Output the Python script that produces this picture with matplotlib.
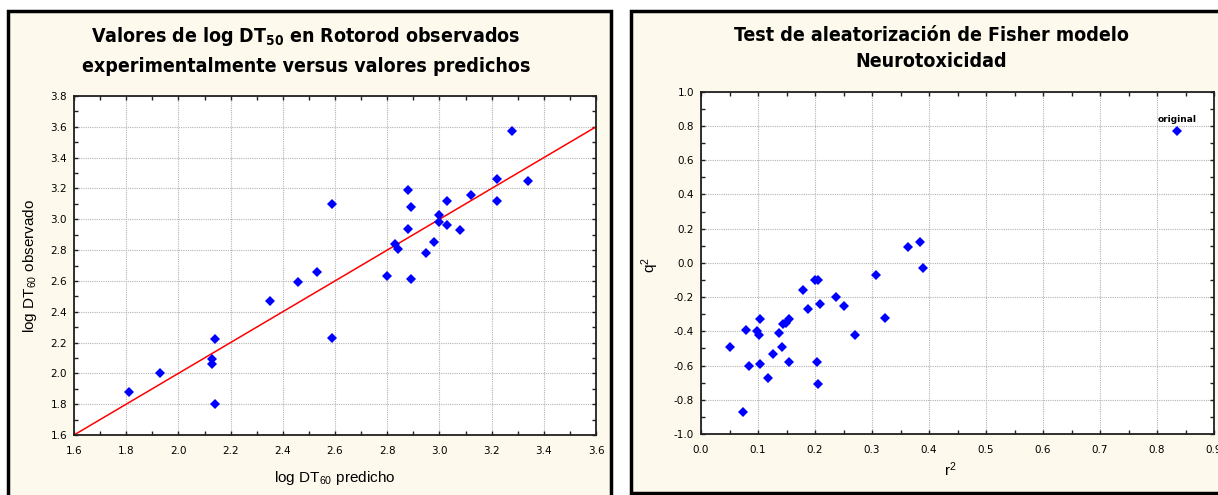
import numpy as np
import matplotlib
matplotlib.use("Agg")
from matplotlib import pyplot as plt
from matplotlib.patches import Rectangle
from matplotlib.ticker import MultipleLocator, FormatStrFormatter

# left chart: observed vs predicted log DT50
predicho = [1.81, 1.93, 2.14, 2.13, 2.13, 2.14, 2.35, 2.46, 2.53, 2.59, 2.59,
            3.28, 3.34, 3.22, 3.22, 3.12, 3.03, 2.88, 2.89, 2.88, 3.00, 3.00,
            3.03, 3.08, 2.98, 2.95, 2.83, 2.84, 2.80, 2.89]
observado = [1.88, 2.00, 2.22, 2.09, 2.06, 1.80, 2.47, 2.59, 2.66, 2.23, 3.10,
             3.57, 3.25, 3.26, 3.12, 3.16, 3.12, 3.19, 3.08, 2.94, 3.03, 2.98,
             2.96, 2.93, 2.85, 2.78, 2.84, 2.81, 2.63, 2.61]
fit_slope = 1.0
fit_intercept = 0.0

# right chart: Fisher randomization test
r2 = [0.051, 0.073, 0.079, 0.085, 0.098, 0.102, 0.104, 0.104, 0.118, 0.127,
      0.136, 0.142, 0.144, 0.149, 0.155, 0.154, 0.179, 0.187, 0.200, 0.206,
      0.203, 0.206, 0.209, 0.236, 0.251, 0.270, 0.307, 0.323, 0.363, 0.384,
      0.390]
q2 = [-0.49, -0.87, -0.39, -0.60, -0.40, -0.42, -0.33, -0.59, -0.67, -0.53,
      -0.41, -0.49, -0.36, -0.35, -0.33, -0.58, -0.16, -0.27, -0.10, -0.10,
      -0.58, -0.71, -0.24, -0.20, -0.25, -0.42, -0.07, -0.32, 0.09, 0.12,
      -0.03]
original_r2 = 0.835
original_q2 = 0.77

W, H = 1218, 495
cream = "#FEF9ED"

plt.rcParams["axes.unicode_minus"] = False
plt.rcParams["mathtext.default"] = "regular"

fig = plt.figure(figsize=(W / 100, H / 100), dpi=100, facecolor="white")

# panel frames
fig.patches.append(Rectangle((7.5 / W, -0.1), 603 / W, 1.1 - 11 / H, transform=fig.transFigure,
                             facecolor=cream, edgecolor="black", linewidth=2.5, zorder=-5))
fig.patches.append(Rectangle((631.5 / W, 1 - 492.5 / H), 620 / W, (492.5 - 11) / H,
                             transform=fig.transFigure, facecolor=cream, edgecolor="black",
                             linewidth=2.5, zorder=-5))

title_font = ["Liberation Sans Narrow", "DejaVu Sans"]
label_font = ["Liberation Sans", "DejaVu Sans"]


def style_axes(ax):
    ax.set_facecolor("white")
    for s in ax.spines.values():
        s.set_linewidth(1.3)
        s.set_color("#202020")
    ax.tick_params(which="both", direction="in", top=True, right=True,
                   labelsize=7.5, color="#202020")
    ax.tick_params(which="major", length=3, width=1)
    ax.tick_params(which="minor", length=3, width=1)
    ax.tick_params(axis="x", pad=8)
    ax.tick_params(axis="y", pad=5)
    ax.grid(True, which="major", color="#b4b4b4", linestyle=(0, (1, 1)), linewidth=0.8)
    ax.set_axisbelow(True)


# ---- left
ax1 = fig.add_axes([74 / W, 1 - 435 / H, 522 / W, 339 / H])
style_axes(ax1)
ax1.set_xlim(1.6, 3.6)
ax1.set_ylim(1.6, 3.8)
ax1.xaxis.set_major_locator(MultipleLocator(0.2))
ax1.xaxis.set_minor_locator(MultipleLocator(0.1))
ax1.yaxis.set_major_locator(MultipleLocator(0.2))
ax1.yaxis.set_minor_locator(MultipleLocator(0.1))
ax1.xaxis.set_major_formatter(FormatStrFormatter("%.1f"))
ax1.yaxis.set_major_formatter(FormatStrFormatter("%.1f"))

lx = np.array(ax1.get_xlim())
ax1.plot(lx, fit_slope * lx + fit_intercept, color="#FF0000", linewidth=1.1, zorder=2)
ax1.plot(predicho, observado, linestyle="none", marker="D", markersize=5.5,
         color="#0000FF", markeredgewidth=0, zorder=3, clip_on=False)

ax1.set_xlabel("log DT$_{60}$ predicho", family=label_font, fontsize=11)
ax1.set_ylabel("log DT$_{60}$ observado", family=label_font, fontsize=11)
ax1.xaxis.set_label_coords(0.5, -0.127)
ax1.xaxis.label.set_va("center")
ax1.yaxis.set_label_coords(-0.084, 0.5)
ax1.yaxis.label.set_va("center")

fig.text(306 / W, 1 - 50.5 / H,
         "Valores de log DT$_{50}$ en Rotorod observados\nexperimentalmente versus valores predichos",
         ha="center", va="center", family=title_font, fontsize=14, fontweight="bold",
         fontstretch="condensed", linespacing=1.6)

# ---- right
ax2 = fig.add_axes([701 / W, 1 - 434 / H, 513 / W, 342.3 / H])
style_axes(ax2)
ax2.set_xlim(0.0, 0.9)
ax2.set_ylim(-1.0, 1.0)
ax2.xaxis.set_major_locator(MultipleLocator(0.1))
ax2.xaxis.set_minor_locator(MultipleLocator(0.05))
ax2.yaxis.set_major_locator(MultipleLocator(0.2))
ax2.yaxis.set_minor_locator(MultipleLocator(0.1))
ax2.xaxis.set_major_formatter(FormatStrFormatter("%.1f"))
ax2.yaxis.set_major_formatter(FormatStrFormatter("%.1f"))

ax2.plot(r2, q2, linestyle="none", marker="D", markersize=5.5,
         color="#0000FF", markeredgewidth=0, zorder=3)
ax2.plot([original_r2], [original_q2], linestyle="none", marker="D", markersize=5.5,
         color="#0000FF", markeredgewidth=0, zorder=3)
ax2.annotate("original", (original_r2, original_q2), xytext=(0, 5), textcoords="offset points",
             ha="center", va="bottom", fontsize=6.5, fontweight="bold")

ax2.set_xlabel("r$^2$", family=label_font, fontsize=11)
ax2.set_ylabel("q$^2$", family=label_font, fontsize=11)
ax2.xaxis.set_label_coords(0.485, -0.105)
ax2.xaxis.label.set_va("center")
ax2.yaxis.set_label_coords(-0.099, 0.494)
ax2.yaxis.label.set_va("center")

fig.text(931 / W, 1 - 48.5 / H,
         "Test de aleatorización de Fisher modelo\nNeurotoxicidad",
         ha="center", va="center", family=title_font, fontsize=14, fontweight="bold",
         fontstretch="condensed", linespacing=1.45)

fig.savefig("out.png", dpi=100, facecolor="white")
